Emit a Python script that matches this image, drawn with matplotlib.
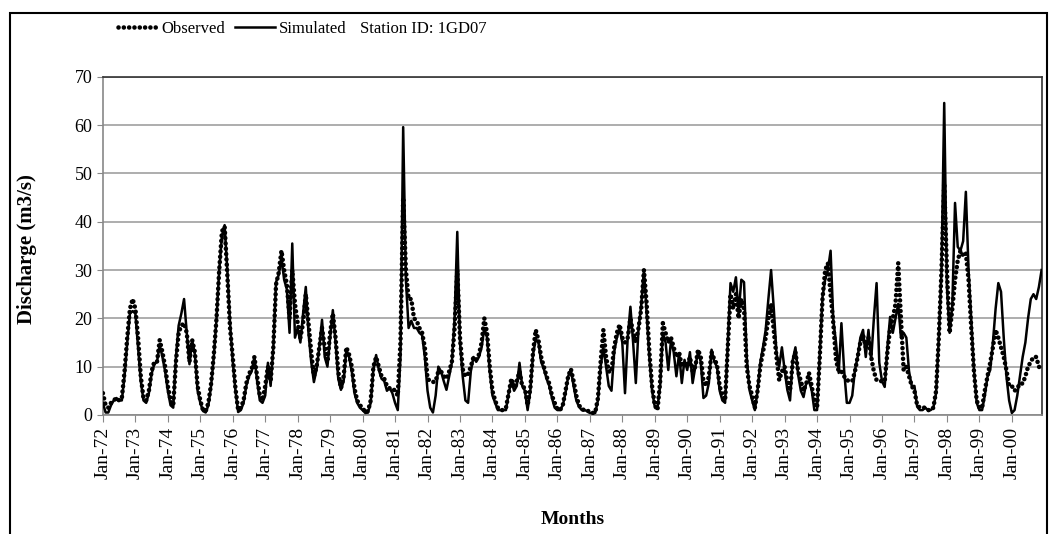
import numpy as np
import matplotlib
matplotlib.use("Agg")
import matplotlib.pyplot as plt
from matplotlib.patches import Rectangle

plt.rcParams['font.family'] = ['Liberation Serif', 'DejaVu Serif']

# monthly discharge (m3/s), Jan-72 .. Dec-00, one row per year
observed = [
    [4.5, 2, 1.5, 2.5, 3, 3.5, 3, 3.5, 9, 16, 22, 24],            # 1972
    [22, 16, 8, 3.5, 3, 5, 9, 11, 11, 15.5, 13, 10],              # 1973
    [6, 3, 2, 11, 17, 18.5, 19, 17, 11, 15.5, 13, 6],             # 1974
    [3, 1, 0.8, 2.5, 6.5, 12.5, 20, 30, 38, 39, 29, 18],          # 1975
    [12, 5.5, 1, 1.5, 3, 6.5, 8.5, 9.5, 12, 8, 4, 3],             # 1976
    [6, 10, 7, 14, 27, 29.5, 34, 30, 27, 20, 30, 23],             # 1977
    [19, 16, 19, 25, 19, 13, 8, 10, 14, 18, 14, 11],              # 1978
    [17, 21, 16, 9, 5.5, 8, 14, 12.5, 10, 5.5, 3, 2],             # 1979
    [1.5, 0.5, 0.8, 3, 10, 12, 10, 8, 7.5, 6, 5.5, 5.5],          # 1980
    [5, 4, 15, 45, 30, 24, 24, 20, 19.5, 18, 17, 14],             # 1981
    [7.5, 7, 6.8, 7, 9, 9, 8, 7.5, 9, 11, 18, 30],                # 1982
    [16, 9.5, 8, 8.5, 10, 12, 11.5, 12.5, 15, 20, 17, 10],        # 1983
    [5, 3, 1.5, 1, 1, 1.5, 4.5, 7.5, 6, 7, 9, 6],                 # 1984
    [5.5, 2, 5.5, 13, 17.6, 15.5, 12, 10, 8, 6.5, 4, 2.5],        # 1985
    [1.2, 1, 2, 5, 8, 9.5, 7, 4, 2, 1.2, 1, 1],                   # 1986
    [0.5, 0.4, 0.5, 3.5, 11, 17.6, 12, 9, 9, 14, 17, 18.7],       # 1987
    [16, 15, 16, 20, 17, 15, 18, 22, 30, 23, 13, 6],              # 1988
    [2, 1, 7, 19, 17, 15, 16, 14, 12, 13, 10, 11],                # 1989
    [10, 12, 9, 10, 13.5, 12, 7, 6, 8, 13, 11.5, 10.5],           # 1990
    [6, 4, 3, 14, 25, 22, 25, 20, 24, 22, 10, 6],                 # 1991
    [4, 1.5, 5, 10, 13, 16, 20, 23, 17.6, 12, 7.2, 9],            # 1992
    [10, 7, 5, 11, 13, 9, 7, 5, 6.5, 8.7, 6, 3],                  # 1993
    [1.5, 12, 24, 30, 31.4, 25, 19, 11.4, 9, 9, 8, 7.2],          # 1994
    [7, 7, 9, 12, 15, 16.5, 14, 16, 12, 9, 7.2, 7],               # 1995
    [7, 7, 13, 18, 20, 23, 31.4, 20, 9.3, 10, 8, 6],              # 1996
    [5, 2, 1.5, 1.5, 1.5, 1, 1, 1.5, 5, 16, 30, 48],              # 1997
    [30, 17, 22, 28, 32, 34, 33, 33.5, 28, 18, 9, 3],             # 1998
    [1.5, 1.5, 5, 8, 10.8, 14, 17.6, 16, 14, 12, 9.3, 6],         # 1999
    [6, 5, 5.5, 6.5, 6.5, 8, 10, 11, 12, 12, 10, 9.3],            # 2000
]

simulated = [
    [2.5, 0.5, 0.5, 2, 3, 3.5, 3, 3, 8, 15, 21, 21.5],            # 1972
    [21, 14, 7, 3, 2.5, 4.5, 8.5, 10.5, 11, 14.5, 12, 9],         # 1973
    [5, 2, 1.5, 12, 18.5, 21, 24, 17, 10.5, 15.5, 12.5, 5],       # 1974
    [2.5, 0.8, 0.5, 2, 6, 12, 20, 30, 37, 39.3, 30, 19],          # 1975
    [11, 5, 0.6, 1, 2.5, 6, 8, 9, 12, 7, 3, 2.5],                 # 1976
    [4, 10.8, 6, 14, 27.5, 29, 32.5, 28, 26, 17, 35.5, 16],       # 1977
    [18, 15, 21, 26.5, 17, 11, 6.8, 9.5, 14, 19.7, 12, 10],       # 1978
    [16, 21.7, 15, 7.5, 5.2, 7, 13.5, 12, 9, 4.5, 2.5, 1.5],      # 1979
    [1, 0.4, 0.5, 2.5, 9.5, 12.4, 9.3, 7.5, 7, 5, 5.6, 4.5],      # 1980
    [2.5, 1, 12, 59.6, 28, 18, 19.5, 18, 18, 17, 16.5, 12],       # 1981
    [5, 1.5, 0.5, 4, 10, 9, 7, 5.2, 8, 10.8, 20, 37.9],           # 1982
    [15, 8, 3, 2.5, 9, 12, 11, 12, 14, 18, 16, 9],                # 1983
    [4, 2.5, 1, 1, 1, 1, 4.5, 7, 5, 6, 10.8, 6],                  # 1984
    [5, 1, 5, 12.5, 15.7, 15, 11, 9.5, 7.5, 6, 3.5, 1.5],         # 1985
    [1, 1, 2, 4.5, 8, 9.3, 6, 3, 1.7, 1, 1, 0.8],                 # 1986
    [0.4, 0.4, 0.4, 3, 10, 14, 10, 6, 5, 13, 16, 18],             # 1987
    [15, 4.5, 16, 22.4, 15, 6.6, 18, 22.8, 30, 21, 12, 5],        # 1988
    [1.7, 1.5, 6, 17, 15, 9.3, 15.5, 13, 8, 12.8, 6.6, 11.4],     # 1989
    [9.3, 13, 6.6, 10, 13, 11, 3.5, 4, 6.6, 13.5, 11, 10],        # 1990
    [5, 3, 2.5, 15, 27.3, 25.5, 28.5, 21, 28, 27.5, 12, 5.2],     # 1991
    [3, 1, 5, 10.8, 14, 17.6, 24, 30, 22, 12.8, 10, 14],          # 1992
    [9.3, 5.2, 3, 11.4, 14, 8.3, 5, 3.7, 6.6, 7, 5.2, 1],         # 1993
    [1, 12.8, 24.4, 28, 30, 34, 19.7, 15, 8.7, 19, 9.3, 2.5],     # 1994
    [2.5, 4, 9.3, 12, 16, 17.6, 12, 17.6, 11.4, 20, 27.3, 10.8],  # 1995
    [7, 5.8, 14, 20.3, 17, 20, 23, 16, 17, 16, 9, 6],             # 1996
    [6, 1.7, 1, 1, 1.5, 1, 1, 1.5, 4.5, 16, 30, 64.6],            # 1997
    [26.5, 17, 22.8, 43.9, 34.8, 34, 36, 46.2, 30, 19.7, 9.3, 2.5],  # 1998
    [1, 1, 4, 7.9, 9.3, 15, 22, 27.3, 25.5, 16, 8, 3],            # 1999
    [0.4, 1, 4, 8, 12, 15, 20, 24, 25, 24, 26.5, 30],             # 2000
]

years = list(range(72, 100)) + [0]
tick_labels = [f"Jan-{y:02d}" for y in years]

obs = np.array(observed).ravel()
sim = np.array(simulated).ravel()
months = np.arange(len(obs))

fig = plt.figure(figsize=(10.5, 5.34), dpi=100)
ax = fig.add_axes([0.098, 0.223, 0.894, 0.633])

ax.plot(months, obs, color='black', lw=3.3, linestyle=(0, (0.01, 1.15)),
        dash_capstyle='round', label='Observed', zorder=3)
ax.plot(months, sim, color='black', lw=1.8, label='Simulated', zorder=4)

ax.set_xlim(0, len(obs) - 1)
ax.set_ylim(0, 70)
ax.set_yticks(range(0, 71, 10))
ax.set_xticks(months[::12])
ax.set_xticklabels(tick_labels, rotation=90, fontsize=14)
ax.tick_params(axis='y', labelsize=13, length=4, color='#888888')
ax.tick_params(axis='x', length=5, color='#888888')
ax.yaxis.grid(True, color='#a0a0a0', lw=1.2)
ax.set_axisbelow(True)

for side in ['left', 'bottom']:
    ax.spines[side].set_color('#888888')
    ax.spines[side].set_linewidth(1.2)
for side in ['top', 'right']:
    ax.spines[side].set_color('#333333')
    ax.spines[side].set_linewidth(1.2)

ax.set_ylabel('Discharge (m3/s)', fontsize=15, fontweight='bold')
ax.yaxis.set_label_coords(-0.07, 0.49)
ax.set_xlabel('Months', fontsize=14, fontweight='bold')
ax.xaxis.set_label_coords(0.5, -0.285)

leg = fig.legend(loc='center left', bbox_to_anchor=(0.1124, 0.946), ncol=2,
                 frameon=False, fontsize=12, handlelength=2.4, handletextpad=0.2,
                 columnspacing=0.6, borderpad=0, borderaxespad=0)
fig.text(360 / 1050, 0.946, 'Station ID: 1GD07', fontsize=12, va='center')

# outer frame around the chart
fig.patches.append(Rectangle((10 / 1050, -0.02), 1037 / 1050, 1.02 - 13 / 534,
                             transform=fig.transFigure, fill=False,
                             edgecolor='black', lw=1.5))

fig.savefig('out.png', dpi=100)
